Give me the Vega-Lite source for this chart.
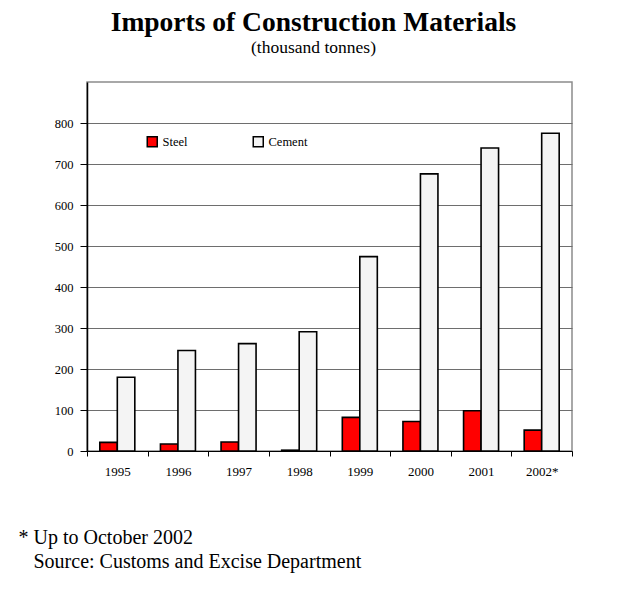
{
  "$schema": "https://vega.github.io/schema/vega-lite/v6.json",
  "width": 485,
  "height": 369,
  "autosize": {"type": "none"},
  "padding": {"left": 87, "top": 82, "right": 53, "bottom": 146},
  "background": "white",
  "config": {
    "font": "Liberation Serif",
    "view": {"stroke": "#8c8c8c", "strokeWidth": 1.5}
  },
  "title": {
    "text": "Imports of Construction Materials",
    "subtitle": "(thousand tonnes)",
    "font": "Liberation Serif",
    "fontSize": 27.5,
    "fontWeight": "bold",
    "color": "black",
    "subtitleFont": "Liberation Serif",
    "subtitleFontSize": 17.5,
    "subtitleColor": "black",
    "subtitlePadding": 2,
    "anchor": "middle",
    "dx": -16,
    "offset": 26
  },
  "data": {
    "values": [
      {"year": "1995", "series": "Steel", "value": 21},
      {"year": "1996", "series": "Steel", "value": 17},
      {"year": "1997", "series": "Steel", "value": 22},
      {"year": "1998", "series": "Steel", "value": 2},
      {"year": "1999", "series": "Steel", "value": 82},
      {"year": "2000", "series": "Steel", "value": 72},
      {"year": "2001", "series": "Steel", "value": 98},
      {"year": "2002*", "series": "Steel", "value": 51},
      {"year": "1995", "series": "Cement", "value": 180},
      {"year": "1996", "series": "Cement", "value": 245},
      {"year": "1997", "series": "Cement", "value": 262},
      {"year": "1998", "series": "Cement", "value": 291},
      {"year": "1999", "series": "Cement", "value": 474},
      {"year": "2000", "series": "Cement", "value": 676},
      {"year": "2001", "series": "Cement", "value": 739},
      {"year": "2002*", "series": "Cement", "value": 775}
    ]
  },
  "mark": {"type": "bar", "stroke": "black", "strokeWidth": 1.6},
  "encoding": {
    "x": {
      "field": "year",
      "type": "nominal",
      "sort": null,
      "scale": {"paddingInner": 0, "paddingOuter": 0},
      "axis": {
        "title": ["* Up to October 2002", "\u200b\u00a0\u00a0\u00a0Source: Customs and Excise Department"],
        "titleFont": "Liberation Serif",
        "titleFontSize": 20,
        "titleFontWeight": "normal",
        "titleColor": "black",
        "titleAnchor": "start",
        "titleAlign": "left",
        "titleBaseline": "alphabetic",
        "titleX": -69,
        "titleY": 92,
        "titleLineHeight": 24,
        "tickBand": "extent",
        "tickSize": 5,
        "tickColor": "black",
        "domainColor": "black",
        "domainWidth": 1.2,
        "labelAngle": 0,
        "labelPadding": 9,
        "labelFontSize": 13,
        "labelColor": "black",
        "grid": false
      }
    },
    "xOffset": {
      "field": "series",
      "type": "nominal",
      "scale": {"domain": ["Steel", "Cement"], "paddingInner": 0, "paddingOuter": 0.732}
    },
    "y": {
      "field": "value",
      "type": "quantitative",
      "scale": {"domain": [0, 900], "nice": false},
      "axis": {
        "title": null,
        "values": [0, 100, 200, 300, 400, 500, 600, 700, 800],
        "grid": true,
        "gridColor": "#6e6e6e",
        "gridWidth": 1.2,
        "tickSize": 7,
        "tickColor": "black",
        "domainColor": "black",
        "domainWidth": 1.5,
        "labelPadding": 7,
        "labelFontSize": 12.5,
        "labelColor": "black"
      }
    },
    "fill": {
      "field": "series",
      "type": "nominal",
      "scale": {"domain": ["Steel", "Cement"], "range": ["#ff0000", "#f4f4f4"]},
      "legend": {
        "title": null,
        "orient": "none",
        "legendX": 59,
        "legendY": 53,
        "direction": "horizontal",
        "symbolType": "square",
        "symbolSize": 100,
        "symbolStrokeColor": "black",
        "symbolStrokeWidth": 1.5,
        "symbolOpacity": 1,
        "labelFontSize": 12.5,
        "labelColor": "black",
        "labelOffset": 4,
        "columnPadding": 62
      }
    }
  }
}
